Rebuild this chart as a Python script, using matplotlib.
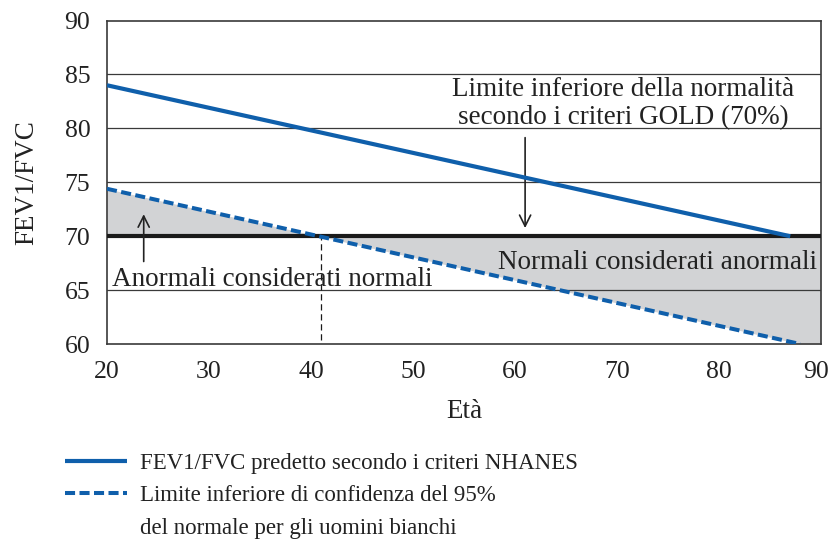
import numpy as np
import matplotlib.pyplot as plt
from matplotlib.lines import Line2D
from matplotlib.transforms import ScaledTranslation

plt.rcParams['font.family'] = ['Liberation Serif', 'DejaVu Serif']

# dati
eta_pred = [20, 87]
fev_pred = [84, 70]          # FEV1/FVC predetto (NHANES)
eta_lln = [20, 88]
fev_lln = [74.4, 60]         # limite inferiore 95%
soglia_gold = 70
eta_incrocio = 41

# area ombreggiata fra la soglia GOLD e il limite inferiore
eta_fill = [20, 88, 90]
fev_fill = [74.4, 60, 60]

blu = '#0f5fab'
grigio = '#d2d3d5'
testo = '#222222'

fig = plt.figure(figsize=(8.32, 5.41), dpi=100)
ax = fig.add_axes([0.1286, 0.364, 0.858, 0.598])

ax.fill_between(eta_fill, fev_fill, soglia_gold, color=grigio, lw=0, interpolate=True, zorder=1)

for y in [65, 75, 80, 85]:
    ax.axhline(y, color='#3a3a3a', lw=0.9, zorder=2)
ax.axhline(soglia_gold, color='#1a1a1a', lw=3.0, zorder=3)
ax.plot([eta_incrocio, eta_incrocio], [60.4, soglia_gold], color='#1a1a1a', lw=0.9,
        linestyle=(0, (5, 3)), zorder=3)

l1, = ax.plot(eta_pred, fev_pred, color=blu, lw=3.0, solid_capstyle='butt', zorder=4)
l2, = ax.plot(eta_lln, fev_lln, color=blu, lw=2.9, linestyle=(0, (2.5, 1.1)), zorder=4)

ax.set_xlim(20, 90)
ax.set_ylim(60, 90)
ax.set_xticks(range(20, 91, 10))
ax.set_yticks(range(60, 91, 5))
ax.tick_params(length=0, labelsize=18.5, colors=testo)
ax.tick_params(axis='x', pad=12)
ax.tick_params(axis='y', pad=12)
for s in ax.spines.values():
    s.set_color('#3a3a3a')
    s.set_linewidth(1.2)

# l'ultima etichetta (90) leggermente a sinistra, per non uscire dal bordo
ultima = ax.get_xticklabels()[-1]
ultima.set_transform(ultima.get_transform() + ScaledTranslation(-0.05, 0, fig.dpi_scale_trans))

ax.set_xlabel('Età', fontsize=19.5, labelpad=12, color=testo)
ax.set_ylabel('FEV1/FVC', fontsize=19.5, labelpad=18, color=testo)

ax.text(70.6, 82.3, 'Limite inferiore della normalità\nsecondo i criteri GOLD (70%)',
        ha='center', va='center', fontsize=19.5, color=testo, linespacing=1.12, zorder=5)
ax.annotate('', xy=(61, 70.5), xytext=(61, 79.4),
            arrowprops=dict(arrowstyle='->', color=testo, lw=1.2, mutation_scale=20))

ax.text(89.6, 67.6, 'Normali considerati anormali', ha='right', va='center',
        fontsize=19.5, color=testo, zorder=5)
ax.text(20.5, 66.0, 'Anormali considerati normali', ha='left', va='center',
        fontsize=19.5, color=testo, zorder=5)
ax.annotate('', xy=(23.6, 72.3), xytext=(23.6, 67.4),
            arrowprops=dict(arrowstyle='->', color=testo, lw=1.2, mutation_scale=20))

vuoto = Line2D([], [], color='none')
leg = fig.legend([l1, l2, vuoto],
                 ['FEV1/FVC predetto secondo i criteri NHANES',
                  'Limite inferiore di confidenza del 95%',
                  'del normale per gli uomini bianchi'],
                 loc='upper left', bbox_to_anchor=(0.078, 0.163), frameon=False,
                 fontsize=16.5, handlelength=2.7, handletextpad=0.57, labelspacing=0.5,
                 borderpad=0, borderaxespad=0)
for t in leg.get_texts():
    t.set_color(testo)

fig.savefig('out.png', dpi=100)
